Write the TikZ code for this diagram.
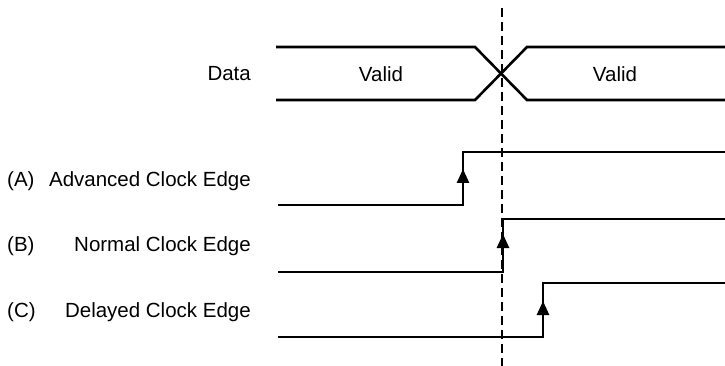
\documentclass[tikz,border=0pt]{standalone}
\usepackage{fontspec}
\setmainfont{Liberation Sans}
\usetikzlibrary{arrows.meta}
\tikzstyle{sig} = [anchor=east, inner sep=0pt, font=\fontsize{20.5}{24}\selectfont]
\tikzstyle{tag} = [anchor=west, inner sep=0pt, font=\fontsize{20.5}{24}\selectfont]
\tikzstyle{txt} = [inner sep=0pt, font=\fontsize{20.5}{24}\selectfont]
\tikzstyle{wave} = [line width=2.6pt, line join=miter]
\tikzstyle{edge} = [line width=2.6pt, -{Triangle[width=12pt,length=14pt]}]

\begin{document}
\begin{tikzpicture}[x=1pt, y=-1pt]
\useasboundingbox (0,0) rectangle (725,366);
% labels
\node (data) [sig] at (251,74) {Data};
\node (validL) [txt] at (381,74) {Valid};
\node (validR) [txt] at (615,74) {Valid};
\node (tagA) [tag] at (7,181) {(A)};
\node (tagB) [tag] at (7,246) {(B)};
\node (tagC) [tag] at (7,312) {(C)};
\node (advA) [sig] at (251,181) {Advanced Clock Edge};
\node (normB) [sig] at (251,246) {Normal Clock Edge};
\node (delC) [sig] at (251,312) {Delayed Clock Edge};
% data bus
\draw [wave] (276,47) -- (475,47) -- (527,100) -- (725,100);
\draw [wave] (276,100) -- (475,100) -- (527,47) -- (725,47);
% clocks
\draw [wave] (278,205) -- (463,205) -- (463,152) -- (725,152);
\draw [wave] (278,272) -- (503,272) -- (503,219) -- (725,219);
\draw [wave] (278,337) -- (543,337) -- (543,283) -- (725,283);
\draw [edge] (463,205) -- (463,169);
\draw [edge] (503,272) -- (503,234);
\draw [edge] (543,337) -- (543,301);
% reference line
\draw [line width=2pt, dash pattern=on 9pt off 5pt] (502,8) -- (502,366);
\end{tikzpicture}
\end{document}
